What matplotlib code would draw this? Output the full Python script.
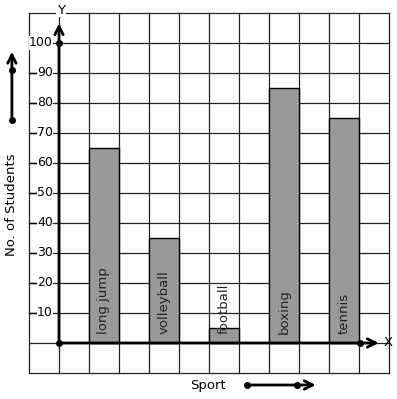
#bar chart of number of students per sport drawn on graph paper style grid

import numpy as np
import matplotlib
matplotlib.use("Agg")
import matplotlib.pyplot as plt

#data
sports = ["long jump", "volleyball", "football", "boxing", "tennis"]
students = [65, 35, 5, 85, 75]
y_ticks = [10, 20, 30, 40, 50, 60, 70, 80, 90, 100]

fig = plt.figure(figsize=(3.97, 3.99), dpi=100)
ax = fig.add_axes([0, 0, 1, 1])
ax.set_xlim(-1 - 29 / 30, 11 + 8 / 30)
ax.set_ylim(-10 - 26 / 3, 110 + 13 / 3)
ax.axis("off")

# grid (graph paper)
for gx in range(-1, 12):
    ax.plot([gx, gx], [-10, 110], color="#222222", lw=0.9, zorder=1)
for gy in range(-10, 111, 10):
    ax.plot([-1, 11], [gy, gy], color="#222222", lw=0.9, zorder=1)

# bars, one gap column between each
xpos = [1 + 2 * i for i in range(len(sports))]
ax.bar(xpos, students, width=1, align="edge", color="#999999",
       edgecolor="black", linewidth=1, zorder=2)
for x, name in zip(xpos, sports):
    ax.text(x + 0.5, 3, name, rotation=90, ha="center", va="bottom",
            fontsize=9.5, color="#222222", zorder=4)

# axes with open arrow heads
ax.annotate("", xy=(0, 107.5), xytext=(0, 0),
            arrowprops=dict(arrowstyle="->", lw=2, color="black",
                            mutation_scale=15), zorder=5)
ax.annotate("", xy=(10.75, 0), xytext=(0, 0),
            arrowprops=dict(arrowstyle="->", lw=2, color="black",
                            mutation_scale=15), zorder=5)
ax.plot([0, 0, 10.03], [0, 100, 0], "o", color="black", ms=4, zorder=6)
ax.text(0.07, 111, "Y", ha="center", va="center", fontsize=9.5,
        bbox=dict(facecolor="white", edgecolor="none", pad=0.5), zorder=6)
ax.text(10.97, 0, "X", ha="center", va="center", fontsize=9.5, zorder=6)

# y tick labels, grid line left of them shows as a dash
for t in y_ticks:
    ax.plot([-1, -0.75], [t, t], color="black", lw=1, zorder=3)
    ax.text(-0.2, t, str(t), ha="right", va="center", fontsize=9,
            bbox=dict(facecolor="white", edgecolor="none", pad=0.2), zorder=4)

# axis titles with direction arrows
ax.text(-1.57, 46, "No. of Students", rotation=90, ha="center",
        va="center", fontsize=9.5)
ax.annotate("", xy=(-1.57, 98), xytext=(-1.57, 74.3),
            arrowprops=dict(arrowstyle="->", lw=2, color="black",
                            mutation_scale=15))
ax.plot([-1.57, -1.57], [74.3, 91], "o", color="black", ms=4)

ax.text(4.97, -14, "Sport", ha="center", va="center", fontsize=9.5)
ax.annotate("", xy=(8.65, -14), xytext=(6.27, -14),
            arrowprops=dict(arrowstyle="->", lw=2, color="black",
                            mutation_scale=15))
ax.plot([6.27, 7.93], [-14, -14], "o", color="black", ms=4)

fig.savefig("out.png", dpi=100)
